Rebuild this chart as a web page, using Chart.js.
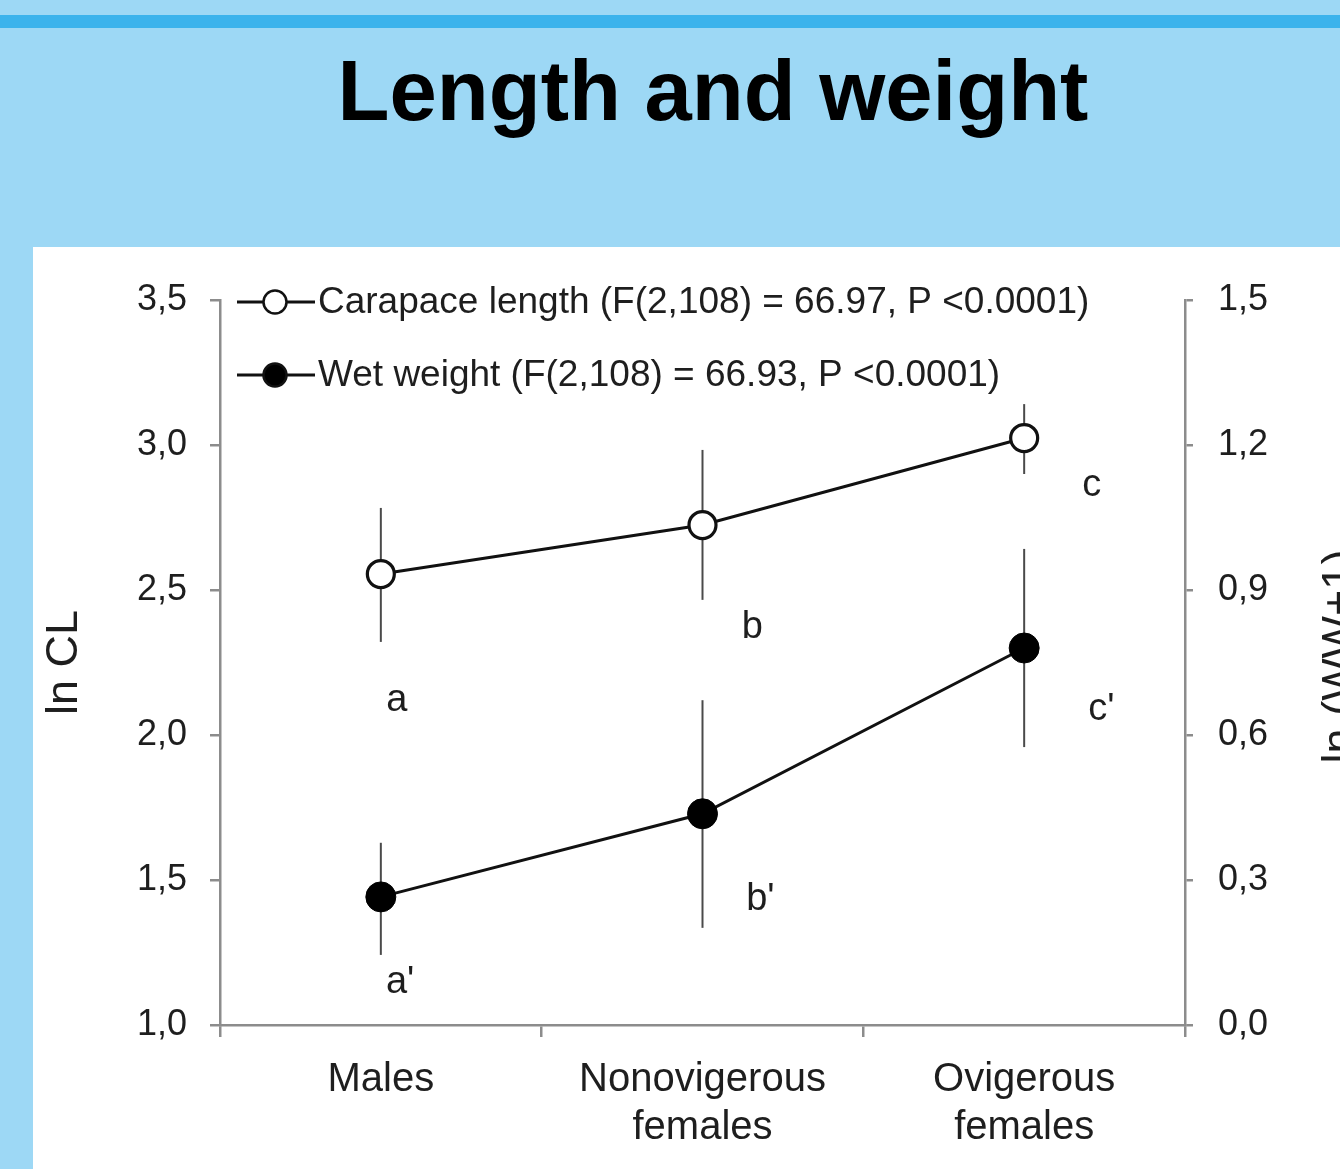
<!DOCTYPE html>
<html>
<head>
<meta charset="utf-8">
<title>Length and weight</title>
<script src="https://cdn.jsdelivr.net/npm/chart.js@4"></script>
<style>
  html, body { margin: 0; padding: 0; }
  body {
    width: 1340px; height: 1169px; overflow: hidden; position: relative;
    background: #9dd8f5;
    font-family: "Liberation Sans", Arial, sans-serif;
  }
  .stripe { position: absolute; left: 0; top: 15px; width: 1340px; height: 13px; background: #3bb3ec; }
  h1 {
    position: absolute; left: 0; top: 49px; width: 1426px; margin: 0;
    text-align: center; font-size: 85px; line-height: 84px; font-weight: bold; color: #000;
  }
  .panel { position: absolute; left: 33px; top: 247px; width: 1307px; height: 922px; background: #fff; }
</style>
</head>
<body>
<div class="stripe"></div>
<h1>Length and weight</h1>
<div class="panel"><canvas id="chart"></canvas></div>

<script>
// categories and values
const categories = ['Males', ['Nonovigerous', 'females'], ['Ovigerous', 'females']];

const clMean = [2.555, 2.724, 3.024];
const clLow  = [2.321, 2.466, 2.900];
const clHigh = [2.783, 2.983, 3.141];

const wwMean = [0.265, 0.437, 0.780];
const wwLow  = [0.145, 0.201, 0.575];
const wwHigh = [0.377, 0.672, 0.985];

const clTicks = [1.0, 1.5, 2.0, 2.5, 3.0, 3.5];
const wwTicks = [0.0, 0.3, 0.6, 0.9, 1.2, 1.5];

const clLetters = ['a', 'b', 'c'];
const wwLetters = ["a'", "b'", "c'"];

// where the letters sit (category offset, axis value)
const clLetterPlace = [[0.05, 2.12], [0.155, 2.37], [0.21, 2.86]];
const wwLetterPlace = [[0.06, 0.087], [0.18, 0.259], [0.24, 0.652]];

const axisGray = '#8c8c8c';
const textColor = '#1e1e1e';
const fontFamily = '"Liberation Sans", Arial, sans-serif';

const comma = v => Number(v).toFixed(1).replace('.', ',');

const extras = {
    id: 'extras',
    beforeDatasetsDraw(chart) {
        const ctx = chart.ctx;
        ctx.save();
        ctx.strokeStyle = '#4a4a4a';
        ctx.lineWidth = 2;
        chart.data.datasets.forEach((ds, i) => {
            const meta = chart.getDatasetMeta(i);
            const ys = chart.scales[ds.yAxisID];
            meta.data.forEach((pt, j) => {
                ctx.beginPath();
                ctx.moveTo(pt.x, ys.getPixelForValue(ds.errLow[j]));
                ctx.lineTo(pt.x, ys.getPixelForValue(ds.errHigh[j]));
                ctx.stroke();
            });
        });
        ctx.restore();
    },
    afterDatasetsDraw(chart) {
        const ctx = chart.ctx;
        const area = chart.chartArea;
        const xs = chart.scales.x;
        ctx.save();

        // significance letters
        ctx.fillStyle = textColor;
        ctx.font = '38px ' + fontFamily;
        ctx.textAlign = 'center';
        ctx.textBaseline = 'middle';
        clLetters.forEach((t, i) => {
            ctx.fillText(t, xs.getPixelForValue(i + clLetterPlace[i][0]), chart.scales.y.getPixelForValue(clLetterPlace[i][1]));
        });
        wwLetters.forEach((t, i) => {
            ctx.fillText(t, xs.getPixelForValue(i + wwLetterPlace[i][0]), chart.scales.y1.getPixelForValue(wwLetterPlace[i][1]));
        });

        // legend inside the plot, line + marker + text
        ctx.font = '37px ' + fontFamily;
        ctx.textAlign = 'left';
        chart.data.datasets.forEach((ds, i) => {
            const y = area.top + 2 + i * 73;
            const x0 = area.left + 17;
            ctx.strokeStyle = '#111';
            ctx.lineWidth = 3;
            ctx.beginPath();
            ctx.moveTo(x0, y);
            ctx.lineTo(x0 + 78, y);
            ctx.stroke();
            ctx.beginPath();
            ctx.arc(x0 + 38, y, 11.5, 0, Math.PI * 2);
            ctx.fillStyle = ds.pointBackgroundColor;
            ctx.fill();
            ctx.lineWidth = 2.5;
            ctx.stroke();
            ctx.fillStyle = textColor;
            ctx.fillText(ds.label, x0 + 81, y + 1);
        });

        // right axis title, reads bottom to top like the left one
        ctx.font = '45px ' + fontFamily;
        ctx.textAlign = 'center';
        ctx.translate(chart.width + 1, (area.top + area.bottom) / 2 - 6);
        ctx.rotate(-Math.PI / 2);
        ctx.fillText('ln (WW+1)', 0, 0);
        ctx.restore();
    }
};

const ctx = document.getElementById('chart').getContext('2d');
new Chart(ctx, {
    type: 'line',
    data: {
        labels: categories,
        datasets: [{
            label: 'Carapace length (F(2,108) = 66.97, P <0.0001)',
            data: clMean,
            errLow: clLow,
            errHigh: clHigh,
            yAxisID: 'y',
            borderColor: '#111',
            borderWidth: 3,
            pointRadius: 13.5,
            pointBorderWidth: 3.2,
            pointBorderColor: '#111',
            pointBackgroundColor: '#ffffff',
            tension: 0
        }, {
            label: 'Wet weight (F(2,108) = 66.93, P <0.0001)',
            data: wwMean,
            errLow: wwLow,
            errHigh: wwHigh,
            yAxisID: 'y1',
            borderColor: '#111',
            borderWidth: 3,
            pointRadius: 15,
            pointBorderWidth: 1,
            pointBorderColor: '#000',
            pointBackgroundColor: '#000000',
            tension: 0
        }]
    },
    options: {
        responsive: true,
        maintainAspectRatio: false,
        animation: false,
        layout: { padding: { top: 53, left: 0, right: 0, bottom: 0 } },
        plugins: {
            legend: { display: false },
            tooltip: { enabled: false }
        },
        scales: {
            x: {
                type: 'category',
                offset: true,
                grid: { offset: true, drawOnChartArea: false, tickLength: 12, color: axisGray, lineWidth: 2.5 },
                border: { color: axisGray, width: 2.5 },
                ticks: { color: textColor, font: { size: 40, family: fontFamily }, padding: 19, maxRotation: 0, autoSkip: false },
                afterFit(s) { s.height = 144; }
            },
            y: {
                position: 'left',
                min: clTicks[0],
                max: clTicks[clTicks.length - 1],
                afterBuildTicks(s) { s.ticks = clTicks.map(v => ({ value: v })); },
                grid: { drawOnChartArea: false, tickLength: 10, color: axisGray, lineWidth: 2.5 },
                border: { color: axisGray, width: 2.5 },
                ticks: { color: textColor, font: { size: 36, family: fontFamily }, padding: 23, callback: comma },
                title: { display: true, text: 'ln CL', color: textColor, font: { size: 45, family: fontFamily }, padding: { top: 5, bottom: 0 } },
                afterFit(s) { s.width = 187; }
            },
            y1: {
                position: 'right',
                min: wwTicks[0],
                max: wwTicks[wwTicks.length - 1],
                afterBuildTicks(s) { s.ticks = wwTicks.map(v => ({ value: v })); },
                grid: { drawOnChartArea: false, tickLength: 8, color: axisGray, lineWidth: 2.5 },
                border: { color: axisGray, width: 2.5 },
                ticks: { color: textColor, font: { size: 36, family: fontFamily }, padding: 25, callback: comma },
                afterFit(s) { s.width = 155; }
            }
        }
    },
    plugins: [extras]
});
</script>
</body>
</html>
